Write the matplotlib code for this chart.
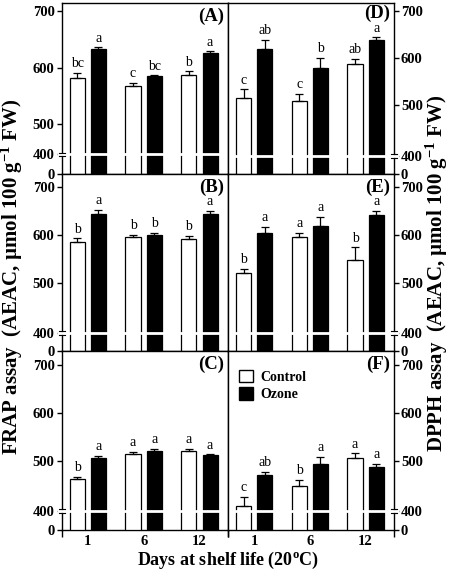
import numpy as np
import matplotlib
matplotlib.use('Agg')
import matplotlib.pyplot as plt
import matplotlib.transforms as mtransforms
from matplotlib.patches import Patch

plt.rcParams['font.family'] = ['Liberation Serif', 'DejaVu Serif']
plt.rcParams['mathtext.fontset'] = 'custom'
plt.rcParams['mathtext.rm'] = 'Liberation Serif:bold'
plt.rcParams['mathtext.bf'] = 'Liberation Serif:bold'
plt.rcParams['mathtext.it'] = 'Liberation Serif:bold:italic'

days = ['1', '6', '12']
series_names = ['Control', 'Ozone']

# FRAP assay (left column), AEAC umol 100 g-1 FW
ctrl_A = [583, 568, 588]
ctrl_A_err = [8, 5, 6]
ozone_A = [633, 586, 627]
ozone_A_err = [3, 1, 2]
sig_ctrl_A = ['bc', 'c', 'b']
sig_ozone_A = ['a', 'bc', 'a']

ctrl_B = [586, 596, 592]
ctrl_B_err = [7, 4, 6]
ozone_B = [644, 599, 644]
ozone_B_err = [8, 5, 6]
sig_ctrl_B = ['b', 'b', 'b']
sig_ozone_B = ['a', 'b', 'a']

ctrl_C = [465, 514, 521]
ctrl_C_err = [3, 5, 5]
ozone_C = [506, 520, 513]
ozone_C_err = [5, 5, 1]
sig_ctrl_C = ['b', 'a', 'a']
sig_ozone_C = ['a', 'a', 'a']

# DPPH assay (right column)
ctrl_D = [514, 508, 587]
ctrl_D_err = [19, 16, 11]
ozone_D = [620, 579, 638]
ozone_D_err = [19, 21, 6]
sig_ctrl_D = ['c', 'c', 'ab']
sig_ozone_D = ['ab', 'b', 'a']

ctrl_E = [520, 595, 548]
ctrl_E_err = [10, 10, 26]
ozone_E = [605, 619, 641]
ozone_E_err = [12, 18, 10]
sig_ctrl_E = ['b', 'a', 'b']
sig_ozone_E = ['a', 'a', 'a']

ctrl_F = [410, 450, 506]
ctrl_F_err = [19, 13, 10]
ozone_F = [472, 495, 488]
ozone_F_err = [7, 14, 7]
sig_ctrl_F = ['c', 'b', 'a']
sig_ozone_F = ['ab', 'a', 'a']

panels = {
    'A': (ctrl_A, ctrl_A_err, ozone_A, ozone_A_err, sig_ctrl_A, sig_ozone_A),
    'B': (ctrl_B, ctrl_B_err, ozone_B, ozone_B_err, sig_ctrl_B, sig_ozone_B),
    'C': (ctrl_C, ctrl_C_err, ozone_C, ozone_C_err, sig_ctrl_C, sig_ozone_C),
    'D': (ctrl_D, ctrl_D_err, ozone_D, ozone_D_err, sig_ctrl_D, sig_ozone_D),
    'E': (ctrl_E, ctrl_E_err, ozone_E, ozone_E_err, sig_ctrl_E, sig_ozone_E),
    'F': (ctrl_F, ctrl_F_err, ozone_F, ozone_F_err, sig_ctrl_F, sig_ozone_F),
}

# layout in pixels of the 449x576 picture
W, H = 449, 576
col_x = [(61.5, 228.0), (228.0, 394.0)]
row_y = [(3.0, 174.0), (174.0, 351.0), (351.0, 530.0)]
# pixel row of the ticks 0, 400, 500, 600, 700 (broken axis)
tick_vals = [0, 400, 500, 600, 700]
tick_pix = {
    'A': [174, 154.5, 124.5, 68, 11],
    'B': [351, 333, 283, 235, 187],
    'C': [530, 511, 461, 413, 365],
    'D': [174, 156, 105, 58, 11],
    'E': [351, 333, 283, 235, 187],
    'F': [530, 511, 461, 413, 365],
}

fig = plt.figure(figsize=(W / 100, H / 100), dpi=100)


def broken_scale(ax, bottom, ypix, height):
    vals = np.array(tick_vals + [800], float)
    yp = list(ypix) + [2 * ypix[-1] - ypix[-2]]
    pix = bottom - np.array(yp, float)
    fwd = lambda v: np.interp(v, vals, pix)
    inv = lambda p: np.interp(p, pix, vals)
    ax.set_yscale('function', functions=(fwd, inv))
    ax.set_ylim(0, float(inv(height)))


def draw_break(ax, side, width_px):
    trans = ax.get_yaxis_transform()
    e = 3.0 / width_px
    if side == 'left':
        xs, xe = (-4.5 / width_px, 1 - 2.5 / width_px), 0.0
    else:
        xs, xe = (2.5 / width_px, 1 + 4.5 / width_px), 1.0
    ax.plot(xs, [400, 400], color='white', lw=2.0, transform=trans,
            clip_on=False, zorder=6, solid_capstyle='butt')
    for dy in (-1.35, 1.35):
        off = mtransforms.ScaledTranslation(0, dy / 72, fig.dpi_scale_trans)
        ax.plot([xe - e, xe + e], [400, 400], color='k', lw=0.8,
                transform=trans + off, clip_on=False, zorder=7)


x = np.arange(len(days))
bw = 0.27
off = 0.19

for ci, names in enumerate([['A', 'B', 'C'], ['D', 'E', 'F']]):
    for ri, name in enumerate(names):
        x0, x1 = col_x[ci]
        y0, y1 = row_y[ri]
        ax = fig.add_axes([x0 / W, 1 - y1 / H, (x1 - x0) / W, (y1 - y0) / H])
        broken_scale(ax, y1, tick_pix[name], y1 - y0)
        ctrl, ctrl_err, ozo, ozo_err, s_ctrl, s_ozo = panels[name]

        ax.bar(x - off, ctrl, bw, color='white', edgecolor='k', linewidth=0.9, zorder=3)
        ax.bar(x + off, ozo, bw, color='black', edgecolor='k', linewidth=0.9, zorder=3)
        ax.errorbar(x - off, ctrl, yerr=[np.zeros(3), ctrl_err], fmt='none',
                    ecolor='k', elinewidth=0.9, capsize=2.8, capthick=0.9, zorder=4)
        ax.errorbar(x + off, ozo, yerr=[np.zeros(3), ozo_err], fmt='none',
                    ecolor='k', elinewidth=0.9, capsize=2.8, capthick=0.9, zorder=4)
        for xi, v, e, s in zip(x - off, ctrl, ctrl_err, s_ctrl):
            ax.annotate(s, (xi, v + e), xytext=(0, 2.0), textcoords='offset points',
                        ha='center', va='bottom', fontsize=10)
        for xi, v, e, s in zip(x + off, ozo, ozo_err, s_ozo):
            ax.annotate(s, (xi, v + e), xytext=(0, 2.0), textcoords='offset points',
                        ha='center', va='bottom', fontsize=10)

        ax.set_xlim(-0.47, 2.51)
        ax.set_xticks(x)
        ax.tick_params(axis='x', which='major', length=0)
        if ri == 2:
            ax.set_xticklabels(days, fontsize=10.5, fontweight='bold')
            ax.set_xticks([-0.47, 2.51], minor=True)
            ax.tick_params(axis='x', which='minor', length=5, width=1.0, direction='out')
        else:
            ax.set_xticklabels([])

        ax.set_yticks(tick_vals)
        ax.yaxis.set_minor_locator(matplotlib.ticker.NullLocator())
        ax.set_yticklabels([str(v) for v in tick_vals], fontsize=10.5, fontweight='bold')
        if ci == 1:
            ax.yaxis.tick_right()
        ax.tick_params(axis='y', length=3.5, width=1.0, direction='out', pad=1.5)
        for sp in ax.spines.values():
            sp.set_linewidth(1.0)

        draw_break(ax, 'left' if ci == 0 else 'right', x1 - x0)

        ly = 0.99 if name == 'D' else 0.975
        ax.text(0.975, ly, '(%s)' % name, transform=ax.transAxes, ha='right',
                va='top', fontsize=13.5, fontweight='bold', zorder=8)

        if name == 'F':
            handles = [Patch(facecolor='white', edgecolor='k', linewidth=1.0),
                       Patch(facecolor='black', edgecolor='k', linewidth=1.0)]
            ax.legend(handles, series_names, loc='upper left',
                      bbox_to_anchor=(0.035, 0.925), frameon=False,
                      handlelength=1.0, handleheight=1.0, handletextpad=0.5,
                      labelspacing=0.25, borderaxespad=0,
                      prop={'weight': 'bold', 'size': 10})

fig.text(12 / W, 1 - 277 / H, 'FRAP assay  (AEAC, \u00b5mol 100 g$^{-1}$ FW)',
         rotation=90, ha='center', va='center', fontsize=15, fontweight='bold')
fig.text(437 / W, 1 - 273 / H, 'DPPH assay  (AEAC, \u00b5mol 100 g$^{-1}$ FW)',
         rotation=90, ha='center', va='center', fontsize=15, fontweight='bold')
fig.text(228 / W, 1 - 560 / H, 'Days at shelf life (20$^{\\mathrm{o}}$C)',
         ha='center', va='center', fontsize=13, fontweight='bold')

fig.savefig('out.png', dpi=100)
